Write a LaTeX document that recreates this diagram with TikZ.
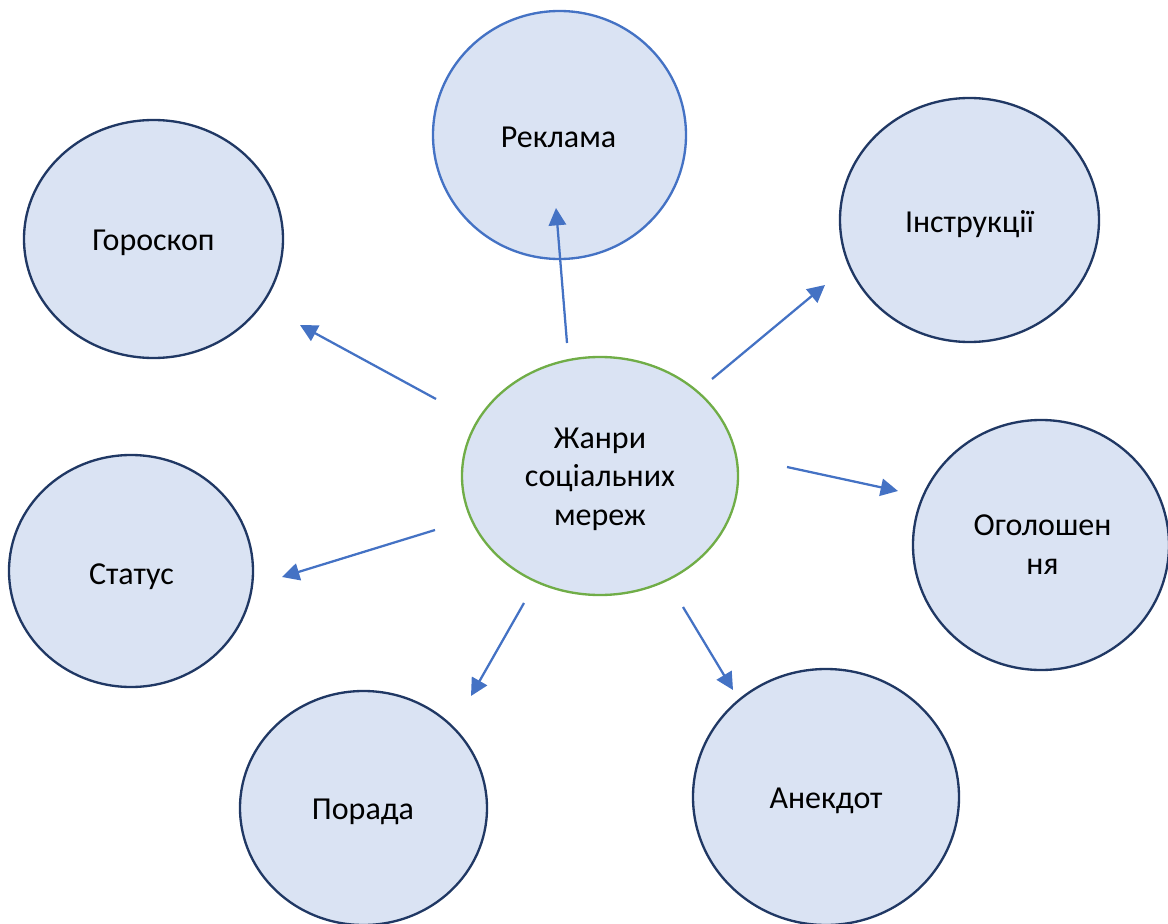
\documentclass[tikz,border=0pt]{standalone}
\usepackage{fontspec}
\setmainfont{Carlito}
\usetikzlibrary{shapes.geometric,arrows.meta}
\definecolor{fillblue}{HTML}{DAE3F3}
\definecolor{navy}{HTML}{203864}
\definecolor{accblue}{HTML}{4472C4}
\definecolor{accgreen}{HTML}{70AD47}
\tikzset{
  bubble/.style={ellipse, draw=navy, fill=fillblue, line width=1.75pt, inner sep=0pt},
  lbl/.style={anchor=base, inner sep=0pt, font=\fontsize{24pt}{28.7pt}\selectfont, align=center},
  conn/.style={draw=accblue, line width=1.7pt, -{Triangle[length=13pt,width=13pt]}}
}
\begin{document}
\begin{tikzpicture}[x=0.75pt,y=-0.75pt]
\useasboundingbox (0,0) rectangle (1168,924);
% ellipses
\node[bubble, draw=accgreen, minimum width=207pt, minimum height=178.5pt] (c) at (600,476) {};
\node[bubble, draw=accblue, minimum width=189.75pt, minimum height=186pt] (rek) at (559.5,135) {};
\node[bubble, minimum width=194.25pt, minimum height=178.5pt] (hor) at (153.5,239) {};
\node[bubble, minimum width=194.25pt, minimum height=183pt] (ins) at (969.5,220) {};
\node[bubble, minimum width=192pt, minimum height=187.5pt] (ogo) at (1041,545) {};
\node[bubble, minimum width=183pt, minimum height=174pt] (sta) at (131,571) {};
\node[bubble, minimum width=185.25pt, minimum height=175.5pt] (por) at (363.5,808) {};
\node[bubble, minimum width=199.5pt, minimum height=192pt] (ane) at (826,797) {};
% labels (base = baseline of last line)
\node[lbl] (ct) at (600,525) {Жанри\\соціальних\\мереж};
\node[lbl] (rekt) at (558.5,147) {Реклама};
\node[lbl] (hort) at (153.5,250) {Гороскоп};
\node[lbl] (inst) at (969.5,232) {Інструкції};
\node[lbl] (ogot) at (1042.5,574) {Оголошен\\ня};
\node[lbl] (stat) at (131.5,584) {Статус};
\node[lbl] (port) at (363,819) {Порада};
\node[lbl] (anet) at (826,808) {Анекдот};
% arrow end points
\coordinate (rekS) at (567,343);   \coordinate (rekE) at (556,208);
\coordinate (horS) at (436,399);   \coordinate (horE) at (300,325);
\coordinate (insS) at (712,379);   \coordinate (insE) at (825,285);
\coordinate (ogoS) at (787,467);   \coordinate (ogoE) at (898,491);
\coordinate (staS) at (435,530);   \coordinate (staE) at (282,577);
\coordinate (porS) at (524,603);   \coordinate (porE) at (471,696);
\coordinate (aneS) at (683,607);   \coordinate (aneE) at (733,690);
\draw[conn] (rekS) -- (rekE);
\draw[conn] (horS) -- (horE);
\draw[conn] (insS) -- (insE);
\draw[conn] (ogoS) -- (ogoE);
\draw[conn] (staS) -- (staE);
\draw[conn] (porS) -- (porE);
\draw[conn] (aneS) -- (aneE);
\end{tikzpicture}
\end{document}
